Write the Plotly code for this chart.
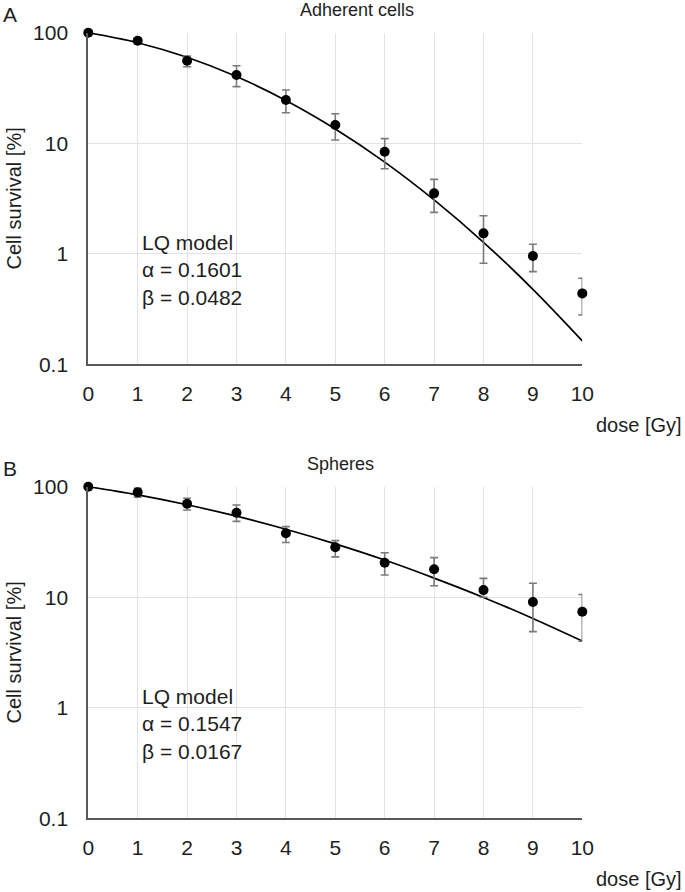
import plotly.graph_objects as go

# dose in Gy
dose = [0, 1, 2, 3, 4, 5, 6, 7, 8, 9, 10]

# Adherent cells: mean survival [%] and error bar ends
adh_mean = [100, 84.6, 55.8, 41.4, 24.6, 14.6, 8.38, 3.52, 1.53, 0.953, 0.438]
adh_upper = [100, 90.0, 61.5, 50.3, 30.3, 18.5, 11.0, 4.71, 2.21, 1.22, 0.60]
adh_lower = [100, 79.5, 49.2, 32.5, 18.9, 10.7, 5.88, 2.37, 0.82, 0.69, 0.279]
adh_fit = [100, 81.2, 59.9, 40.1, 24.4, 13.46, 6.75, 3.07, 1.27, 0.477, 0.163]

# Spheres
sph_mean = [100, 88.9, 70.2, 58.2, 37.9, 28.3, 20.5, 17.9, 11.6, 9.06, 7.39]
sph_upper = [100, 96.7, 78.5, 68.3, 43.5, 32.5, 25.3, 22.8, 14.8, 13.4, 10.6]
sph_lower = [100, 80.2, 61.5, 48.6, 31.3, 23.2, 15.9, 12.7, 9.99, 4.88, 4.0]
sph_fit = [100, 84.2, 68.6, 54.1, 41.2, 30.4, 21.7, 14.9, 9.96, 6.42, 4.01]

panels = [
    ("A", "Adherent cells", 357, adh_mean, adh_upper, adh_lower, adh_fit, "LQ model<br>α = 0.1601<br>β = 0.0482"),
    ("B", "Spheres", 340, sph_mean, sph_upper, sph_lower, sph_fit, "LQ model<br>α = 0.1547<br>β = 0.0167"),
]

W, H = 685, 892
FONT = "Liberation Sans, Arial, sans-serif"
TXT = "#1e1e1e"


def px(x):
    return x / W


def py(y):
    return 1 - y / H


x_dom = [px(88.3), px(582.3)]
y_pix = [(32.7, 364.3), (486.7, 818.3)]

fig = go.Figure()
layout = {}
annotations = []
for i, (letter, title, title_x, mean, upper, lower, fit, label) in enumerate(panels):
    n = "" if i == 0 else str(i + 1)
    xa, ya = "x" + n, "y" + n
    top, bot = y_pix[i]
    fig.add_trace(go.Scatter(x=dose, y=fit, mode="lines", line=dict(color="black", width=1.7, shape="spline"),
                             xaxis=xa, yaxis=ya, showlegend=False, hoverinfo="skip"))
    fig.add_trace(go.Scatter(
        x=dose, y=mean, mode="markers", marker=dict(color="black", size=10),
        error_y=dict(type="data", symmetric=False,
                     array=[u - m for u, m in zip(upper, mean)],
                     arrayminus=[m - l for m, l in zip(mean, lower)],
                     color="#7a7a7a", thickness=1.6, width=4),
        xaxis=xa, yaxis=ya, showlegend=False, cliponaxis=False))
    layout["xaxis" + n] = dict(domain=x_dom, range=[0, 10], anchor=ya, tickvals=dose,
                               showgrid=True, gridcolor="#e3e3e3", gridwidth=1,
                               showline=True, linecolor="#595959", linewidth=2,
                               zeroline=False, ticks="", tickfont=dict(size=21, color=TXT),
                               ticklabelstandoff=9, automargin=False)
    layout["yaxis" + n] = dict(domain=[py(bot), py(top)], type="log", range=[-1, 2], anchor=xa,
                               tickvals=[0.1, 1, 10, 100], ticktext=["0.1", "1", "10", "100"],
                               showgrid=True, gridcolor="#e3e3e3", gridwidth=1,
                               showline=True, linecolor="#595959", linewidth=2,
                               zeroline=False, ticks="", tickfont=dict(size=21, color=TXT),
                               ticklabelstandoff=14, automargin=False)
    annotations.append(dict(text="Cell survival [%]", x=px(13), y=py((top + bot) / 2),
                            xref="paper", yref="paper", textangle=-90,
                            xanchor="center", yanchor="middle", showarrow=False,
                            font=dict(size=20, color=TXT, family=FONT)))
    annotations.append(dict(text=letter, x=px(10), y=py(top - 18), xref="paper", yref="paper",
                            xanchor="center", yanchor="middle", showarrow=False,
                            font=dict(size=21, color=TXT, family=FONT)))
    annotations.append(dict(text=title, x=px(title_x), y=py(top - 23), xref="paper", yref="paper",
                            xanchor="center", yanchor="middle", showarrow=False,
                            font=dict(size=18, color=TXT, family=FONT)))
    annotations.append(dict(text="dose [Gy]", x=px(684), y=py(bot + 61), xref="paper", yref="paper",
                            xanchor="right", yanchor="middle", showarrow=False,
                            font=dict(size=20, color=TXT, family=FONT)))
    annotations.append(dict(text=label, x=1.04, y=py(top + 196), xref=xa, yref="paper",
                            xanchor="left", yanchor="top", align="left", showarrow=False,
                            font=dict(size=21, color=TXT, family=FONT)))

fig.update_layout(width=W, height=H, margin=dict(l=0, r=0, t=0, b=0),
                  plot_bgcolor="white", paper_bgcolor="white",
                  font=dict(family=FONT, color=TXT),
                  annotations=annotations, **layout)

# drop the default 8px page margin so the figure fills the window
fig.write_html("out.html", config={"displayModeBar": False},
               post_script="document.body.style.margin = '0px';")
